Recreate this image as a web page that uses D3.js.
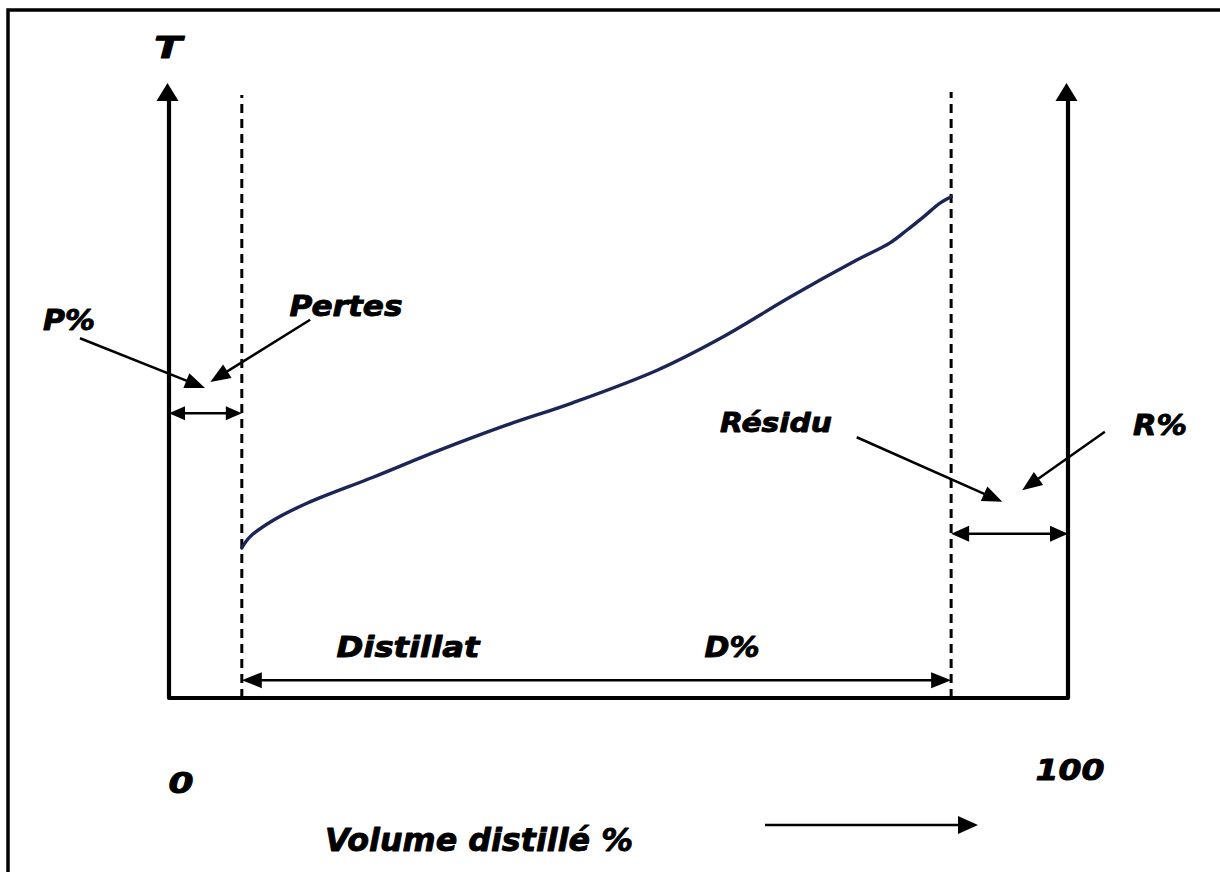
<!DOCTYPE html>
<html><head><meta charset="utf-8">
<script src="https://cdn.jsdelivr.net/npm/d3@7/dist/d3.min.js"></script>
<style>body{margin:0;background:#fff}svg{display:block}</style>
</head><body>
<svg id="c" width="1220" height="872"></svg>
<script>
// ---- data ----
const volume      = [8.1, 9.0, 11.6, 15.4, 22.7, 30.1, 37.6, 44.9, 54.3, 61.6, 69.1, 76.5, 80.2, 82.1, 83.9, 85.8, 87.0];
const temperature = [24.4, 26.2, 28.9, 31.7, 35.9, 40.3, 44.4, 48.0, 53.3, 58.7, 65.2, 71.2, 74.0, 76.1, 78.2, 80.5, 81.5];
const cutPoints   = [8.1, 87.0];           // end of losses, end of distillate (volume %)
const xTickLabels = ["0", "100"];
const xTickValues = [0, 100];
const axisLabels  = ["T", "Volume distillé %"];
const zoneLabels  = ["P%", "Pertes", "Résidu", "R%", "Distillat", "D%"];

// ---- layout ----
const svg = d3.select("#c");
const W = 1220, H = 872;
const x = d3.scaleLinear().domain([0, 100]).range([169, 1068]);
const y = d3.scaleLinear().domain([0, 100]).range([698, 83]);
const FONT = "'DejaVu Sans', sans-serif";

svg.append("rect").attr("width", W).attr("height", H).attr("fill", "#fff");
// frame (cropped at right/bottom)
svg.append("rect").attr("x", 8).attr("y", 10).attr("width", 1400).attr("height", 1000)
  .attr("fill", "none").attr("stroke", "#000").attr("stroke-width", 3.5);

function head(g, x1, y1, x2, y2, len, half) {
  const a = Math.atan2(y2 - y1, x2 - x1);
  const bx = x2 - len * Math.cos(a), by = y2 - len * Math.sin(a);
  const px = -Math.sin(a) * half, py = Math.cos(a) * half;
  g.append("path")
    .attr("d", `M${x2},${y2}L${bx + px},${by + py}L${bx - px},${by - py}Z`)
    .attr("fill", "#000");
}
function arrow(x1, y1, x2, y2, opt) {
  const o = Object.assign({w: 2.5, len: 16, half: 7, both: false}, opt || {});
  const g = svg.append("g");
  const a = Math.atan2(y2 - y1, x2 - x1);
  const sx = o.both ? x1 + (o.len - 2) * Math.cos(a) : x1;
  const sy = o.both ? y1 + (o.len - 2) * Math.sin(a) : y1;
  g.append("line").attr("x1", sx).attr("y1", sy)
    .attr("x2", x2 - (o.len - 2) * Math.cos(a)).attr("y2", y2 - (o.len - 2) * Math.sin(a))
    .attr("stroke", "#000").attr("stroke-width", o.w);
  head(g, x1, y1, x2, y2, o.len, o.half);
  if (o.both) head(g, x2, y2, x1, y1, o.len, o.half);
}

// axes (U shape)
svg.append("path")
  .attr("d", `M${x(0)},${y(100) + 14}L${x(0)},${y(0)}L${x(100)},${y(0)}L${x(100)},${y(100) + 14}`)
  .attr("fill", "none").attr("stroke", "#000").attr("stroke-width", 4.2).attr("stroke-linejoin", "round");
[0, 100].forEach(v => {
  const g = svg.append("g");
  head(g, x(v) - 1.5, y(0), x(v) - 1.5, y(100), 18, 11);
});

// dashed cut lines
cutPoints.forEach((v, i) => {
  svg.append("line").attr("x1", x(v)).attr("x2", x(v))
    .attr("y1", y(0)).attr("y2", i === 0 ? 95 : 92)
    .attr("stroke", "#000").attr("stroke-width", 3).attr("stroke-dasharray", "9,6");
});

// distillation curve
const line = d3.line().x(d => x(d[0])).y(d => y(d[1])).curve(d3.curveCatmullRom.alpha(0.5));
svg.append("path").datum(volume.map((v, i) => [v, temperature[i]]))
  .attr("d", line).attr("fill", "none").attr("stroke", "#1c2656")
  .attr("stroke-width", 3.4).attr("stroke-linecap", "round").attr("stroke-linejoin", "round");

// double arrows (span arrows)
arrow(x(0), y(46.3), x(cutPoints[0]), y(46.3), {both: true, len: 16, half: 7});
arrow(x(cutPoints[1]), y(26.7), x(100), y(26.7), {both: true, len: 18, half: 8});
arrow(x(cutPoints[0]), y(2.9), x(cutPoints[1]), y(2.9), {both: true, len: 20, half: 8});

// pointer arrows
arrow(x(-9.9), y(58.5), x(4.0), y(50.4), {len: 20, half: 8});
arrow(x(15.7), y(61.5), x(4.6), y(51.4), {len: 20, half: 8});
arrow(x(76.5), y(42.4), x(92.7), y(31.9), {len: 20, half: 8});
arrow(x(104.1), y(43.3), x(94.9), y(33.8), {len: 20, half: 8});

// x direction arrow
arrow(765, 825, 978, 825, {w: 2.6, len: 20, half: 9});

// text
function label(t, cx, base, size, width) {
  const e = svg.append("text").text(t).attr("x", cx).attr("y", base)
    .attr("text-anchor", "middle").attr("font-family", FONT)
    .attr("font-weight", "bold").attr("font-style", "italic")
    .attr("font-size", size).attr("fill", "#000")
    .attr("stroke", "#000").attr("stroke-width", 0.9).attr("stroke-linejoin", "round");
  if (width) e.attr("textLength", width).attr("lengthAdjust", "spacingAndGlyphs");
  return e;
}
label(axisLabels[0], 168, 58, 30, 28);
label(axisLabels[1], 479, 851, 32, 308);
label(xTickLabels[0], x(xTickValues[0]) + 12, 793, 28, 25);
label(xTickLabels[1], x(xTickValues[1]) + 2, 780, 28, 69);
label(zoneLabels[0], 69, 330, 28, 52);
label(zoneLabels[1], 346, 316, 28, 113);
label(zoneLabels[2], 776, 432, 27, 112);
label(zoneLabels[3], 1160, 435, 28, 54);
label(zoneLabels[4], 408, 657, 28, 143);
label(zoneLabels[5], 732, 657, 28, 55);
</script>
</body></html>
